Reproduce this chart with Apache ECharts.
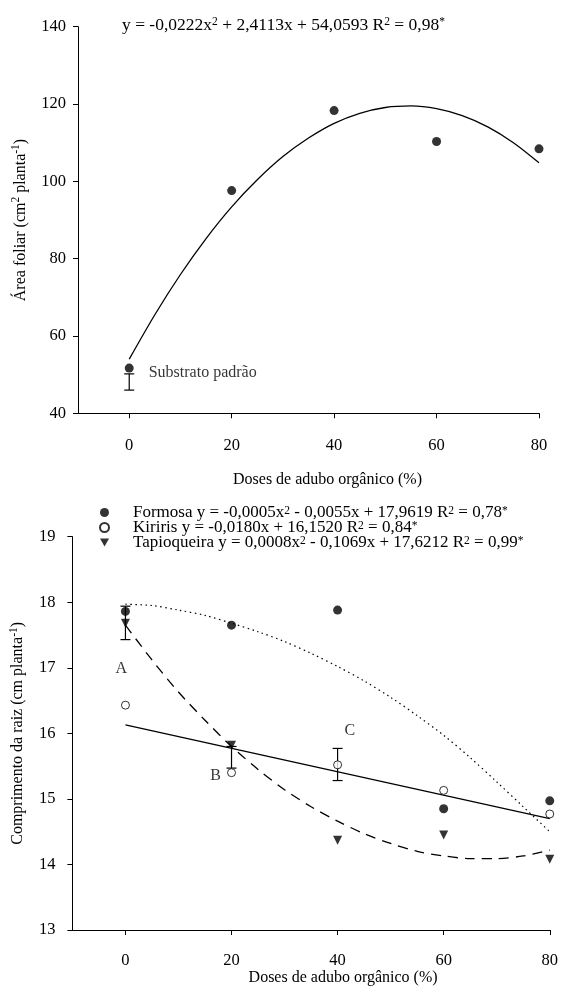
<!DOCTYPE html>
<html>
<head>
<meta charset="utf-8">
<script src="https://cdn.jsdelivr.net/npm/echarts@6/dist/echarts.min.js"></script>
<style>
  html, body { margin: 0; padding: 0; background: #fff; }
  #chart { width: 561px; height: 992px; }
</style>
</head>
<body>
<div id="chart"></div>
<script>
// doses de adubo orgânico (%)
const doses = [0, 20, 40, 60, 80];
const xTicks = [0, 20, 40, 60, 80];
// pontos lidos ao longo das curvas ajustadas
const curveX = [0, 5, 10, 15, 20, 25, 30, 35, 40, 45, 50, 55, 60, 65, 70, 75, 80];

// gráfico de cima: área foliar
const areaFoliar = [51.7, 97.6, 118.3, 110.3, 108.4];
const areaCurve = [54.0, 65.5, 75.9, 85.2, 93.4, 100.4, 106.4, 111.2, 115.0, 117.6, 119.1, 119.5, 118.8, 117.0, 114.1, 110.0, 104.8];
const areaErrX = [0];
const areaErrLow = [46.0];
const areaErrHigh = [50.2];

// gráfico de baixo: comprimento da raiz
const formosa = [17.86, 17.65, 17.88, 14.85, 14.97];
const kiriris = [16.43, 15.40, 15.52, 15.13, 14.77];
const tapioqueira = [17.68, 15.82, 14.37, 14.45, 14.08];
const formosaCurve = [17.97, 17.95, 17.88, 17.80, 17.68, 17.55, 17.40, 17.22, 17.02, 16.80, 16.55, 16.27, 15.97, 15.63, 15.26, 14.88, 14.50];
const kiririsCurveX = [0, 80];
const kiririsCurve = [16.13, 14.70];
const tapioCurve = [17.65, 17.12, 16.63, 16.20, 15.80, 15.45, 15.14, 14.88, 14.66, 14.47, 14.32, 14.20, 14.13, 14.09, 14.09, 14.13, 14.22];
const raizErrX = [0, 20, 40];
const raizErrLow = [17.43, 15.47, 15.28];
const raizErrHigh = [17.94, 15.80, 15.77];
const letters = ['A', 'B', 'C'];
const letterX = [-0.8, 17.0, 42.3];
const letterY = [16.99, 15.36, 16.04];

const legendNames = ['Formosa', 'Kiriris', 'Tapioqueira'];
const legendEq = [
  'Formosa y = -0,0005x{s|2} - 0,0055x + 17,9619 R{s|2} = 0,78{s|*}',
  'Kiriris y = -0,0180x + 16,1520 R{s|2} = 0,84{s|*}',
  'Tapioqueira y = 0,0008x{s|2} - 0,1069x + 17,6212 R{s|2} = 0,99{s|*}'
];

const FONT = '"Liberation Serif", "Times New Roman", serif';
const sup = { fontFamily: FONT, fontSize: 11.5, verticalAlign: 'top', lineHeight: 10, color: '#000' };
const triDown = 'path://M0,0L10,0L5,9Z';

const pairs = (xs, ys) => xs.map((x, i) => [x, ys[i]]);
const triples = (xs, lo, hi) => xs.map((x, i) => [x, lo[i], hi[i]]);

function errorBar(params, api) {
  const x = api.value(0);
  const lo = api.coord([x, api.value(1)]);
  const hi = api.coord([x, api.value(2)]);
  const w = 5;
  const style = { stroke: '#000', lineWidth: 1.2 };
  return {
    type: 'group',
    children: [
      { type: 'line', shape: { x1: lo[0], y1: lo[1], x2: hi[0], y2: hi[1] }, style },
      { type: 'line', shape: { x1: lo[0] - w, y1: lo[1], x2: lo[0] + w, y2: lo[1] }, style },
      { type: 'line', shape: { x1: hi[0] - w, y1: hi[1], x2: hi[0] + w, y2: hi[1] }, style }
    ]
  };
}

function xAxisOf(grid, labelMargin, nameGap, namePad) {
  return {
    type: 'value', gridIndex: grid, min: -10, max: 80,
    axisLine: { show: true, onZero: false, lineStyle: { color: '#000', width: 1 } },
    axisTick: { show: true, customValues: xTicks, length: 5, lineStyle: { color: '#000' } },
    axisLabel: { customValues: xTicks, margin: labelMargin, fontSize: 16.5, color: '#000', fontFamily: FONT },
    splitLine: { show: false },
    name: 'Doses de adubo orgânico (%)', nameLocation: 'middle', nameGap: nameGap,
    nameTextStyle: { fontSize: 16, color: '#000', fontFamily: FONT, padding: [0, 0, 0, namePad] }
  };
}

function yAxisOf(grid, min, max, interval, labelMargin, name, nameGap) {
  return {
    type: 'value', gridIndex: grid, min: min, max: max, interval: interval,
    axisLine: { show: true, onZero: false, lineStyle: { color: '#000', width: 1 } },
    axisTick: { show: true, length: 5, lineStyle: { color: '#000' } },
    axisLabel: { margin: labelMargin, fontSize: 16.5, color: '#000', fontFamily: FONT },
    splitLine: { show: false },
    name: name, nameLocation: 'middle', nameRotate: 90, nameGap: nameGap,
    nameTextStyle: { fontSize: 16, color: '#000', fontFamily: FONT, lineHeight: 20, rich: { s: sup } }
  };
}

const option = {
  animation: false,
  backgroundColor: '#fff',
  textStyle: { fontFamily: FONT, color: '#000' },
  title: {
    left: 122, top: 16, padding: 0,
    text: 'y = -0,0222x{s|2} + 2,4113x + 54,0593 R{s|2} = 0,98{s|*}',
    textStyle: { fontSize: 17.5, fontWeight: 'normal', color: '#000', fontFamily: FONT, lineHeight: 19, rich: { s: sup } }
  },
  legend: {
    data: legendNames, orient: 'vertical', left: 94, top: 499,
    itemWidth: 9, itemHeight: 9, itemGap: -2,
    formatter: name => legendEq[legendNames.indexOf(name)],
    textStyle: { fontSize: 17, color: '#000', fontFamily: FONT, lineHeight: 14.3, padding: [0, 0, 0, 19], rich: { s: sup } }
  },
  grid: [
    { left: 78, top: 26.7, width: 461, height: 386.6 },
    { left: 62, top: 536.7, width: 489, height: 393.3 }
  ],
  xAxis: [xAxisOf(0, 24, 58, 38), xAxisOf(1, 22, 40, 64)],
  yAxis: [
    yAxisOf(0, 40, 140, 20, 12, 'Área foliar (cm{s|2} planta{s|-1})', 45),
    yAxisOf(1, 13, 19, 1, 17, 'Comprimento da raiz (cm planta{s|-1})', 31)
  ],
  series: [
    {
      type: 'line', xAxisIndex: 0, yAxisIndex: 0, smooth: 0.3, symbol: 'none',
      lineStyle: { color: '#000', width: 1.3 }, data: pairs(curveX, areaCurve), z: 2
    },
    {
      type: 'scatter', xAxisIndex: 0, yAxisIndex: 0, symbolSize: 9, itemStyle: { color: '#000' }, z: 5,
      data: pairs(doses, areaFoliar).map((p, i) => i === 0 ? {
        value: p,
        label: { show: true, position: 'right', distance: 15, offset: [0, 5], formatter: 'Substrato padrão', fontSize: 16, color: '#000', fontFamily: FONT }
      } : p)
    },
    {
      type: 'custom', xAxisIndex: 0, yAxisIndex: 0, renderItem: errorBar, z: 4,
      encode: { x: 0, y: [1, 2] }, data: triples(areaErrX, areaErrLow, areaErrHigh)
    },
    {
      type: 'line', xAxisIndex: 1, yAxisIndex: 1, smooth: 0.3, symbol: 'none',
      lineStyle: { color: '#000', width: 1.2, type: [1.5, 3.5] }, data: pairs(curveX, formosaCurve), z: 2
    },
    {
      type: 'line', xAxisIndex: 1, yAxisIndex: 1, symbol: 'none',
      lineStyle: { color: '#000', width: 1.3 }, data: pairs(kiririsCurveX, kiririsCurve), z: 2
    },
    {
      type: 'line', xAxisIndex: 1, yAxisIndex: 1, smooth: 0.3, symbol: 'none',
      lineStyle: { color: '#000', width: 1.3, type: [10, 7] }, data: pairs(curveX, tapioCurve), z: 2
    },
    {
      name: 'Formosa', type: 'scatter', xAxisIndex: 1, yAxisIndex: 1, symbol: 'circle', symbolSize: 9,
      itemStyle: { color: '#000' }, data: pairs(doses, formosa), z: 5
    },
    {
      name: 'Kiriris', type: 'scatter', xAxisIndex: 1, yAxisIndex: 1, symbol: 'circle', symbolSize: 8,
      itemStyle: { color: '#fff', borderColor: '#000', borderWidth: 1 }, data: pairs(doses, kiriris), z: 5
    },
    {
      name: 'Tapioqueira', type: 'scatter', xAxisIndex: 1, yAxisIndex: 1, symbol: triDown, symbolSize: [9, 9],
      itemStyle: { color: '#000' }, data: pairs(doses, tapioqueira), z: 5
    },
    {
      type: 'custom', xAxisIndex: 1, yAxisIndex: 1, renderItem: errorBar, z: 4,
      encode: { x: 0, y: [1, 2] }, data: triples(raizErrX, raizErrLow, raizErrHigh)
    },
    {
      type: 'scatter', xAxisIndex: 1, yAxisIndex: 1, symbolSize: 0, silent: true, z: 6,
      data: pairs(letterX, letterY),
      label: {
        show: true, position: 'inside', fontSize: 16, color: '#000', fontFamily: FONT,
        formatter: p => letters[p.dataIndex]
      }
    }
  ]
};

const myChart = echarts.init(document.getElementById('chart'), null, { renderer: 'canvas' });
myChart.setOption(option);
</script>
</body>
</html>
